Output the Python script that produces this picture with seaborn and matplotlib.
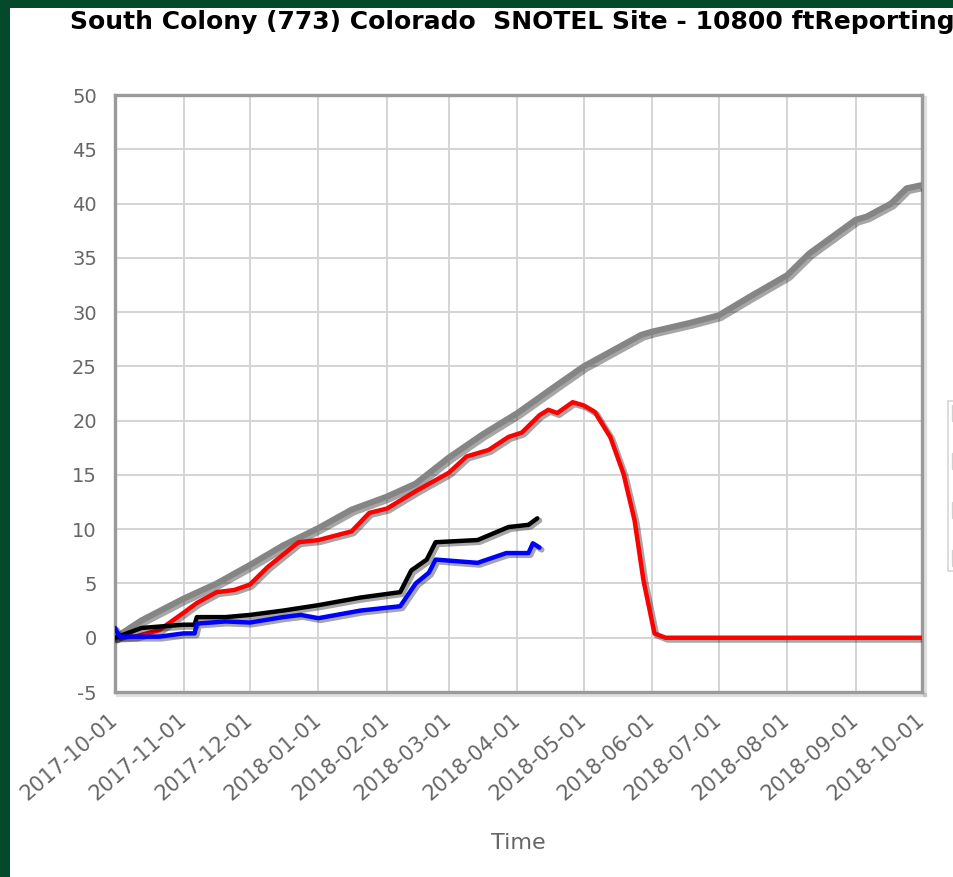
import matplotlib
matplotlib.use("Agg")
import matplotlib.pyplot as plt
import matplotlib.dates as mdates
import matplotlib.patheffects as pe
from matplotlib.patches import Rectangle, Patch
import numpy as np
import pandas as pd
import seaborn as sns

# ---- data (inches) ----
median_precip_dates = ["2017-10-01", "2017-10-13", "2017-11-01", "2017-11-16", "2017-12-01",
                       "2017-12-16", "2018-01-01", "2018-01-16", "2018-02-01", "2018-02-14",
                       "2018-03-01", "2018-03-16", "2018-04-01", "2018-04-19", "2018-05-01",
                       "2018-05-27", "2018-06-01", "2018-06-18", "2018-07-01", "2018-07-15",
                       "2018-08-01", "2018-08-11", "2018-09-01", "2018-09-06", "2018-09-17",
                       "2018-09-24", "2018-10-01"]
median_precip = [0.0, 1.6, 3.6, 5.0, 6.7, 8.5, 10.1, 11.8, 13.0, 14.2, 16.6, 18.7, 20.7,
                 23.3, 25.0, 27.9, 28.2, 29.0, 29.7, 31.4, 33.4, 35.4, 38.5, 38.8, 40.0,
                 41.4, 41.7]

median_swe_dates = ["2017-10-01", "2017-10-10", "2017-10-21", "2017-11-01", "2017-11-07",
                    "2017-11-16", "2017-11-24", "2017-12-01", "2017-12-09", "2017-12-23",
                    "2018-01-01", "2018-01-16", "2018-01-24", "2018-02-01", "2018-02-14",
                    "2018-03-01", "2018-03-09", "2018-03-19", "2018-03-28", "2018-04-03",
                    "2018-04-11", "2018-04-15", "2018-04-19", "2018-04-26", "2018-05-01",
                    "2018-05-06", "2018-05-13", "2018-05-19", "2018-05-24", "2018-05-28",
                    "2018-06-02", "2018-06-07", "2018-10-01"]
median_swe = [0.0, 0.1, 0.7, 2.3, 3.2, 4.2, 4.4, 4.9, 6.5, 8.8, 9.0, 9.8, 11.5, 11.9,
              13.5, 15.2, 16.7, 17.3, 18.5, 18.9, 20.5, 21.0, 20.7, 21.7, 21.4, 20.8,
              18.5, 15.1, 10.8, 5.3, 0.4, 0.0, 0.0]

precip_dates = ["2017-10-01", "2017-10-13", "2017-11-01", "2017-11-06", "2017-11-07",
                "2017-11-20", "2017-12-01", "2017-12-16", "2018-01-01", "2018-01-20",
                "2018-02-07", "2018-02-12", "2018-02-19", "2018-02-23", "2018-03-14",
                "2018-03-28", "2018-04-06", "2018-04-10"]
precip = [0.0, 0.9, 1.2, 1.2, 1.9, 1.9, 2.1, 2.5, 3.0, 3.7, 4.2, 6.2, 7.2, 8.8, 9.0,
          10.2, 10.4, 11.0]

swe_dates = ["2017-10-01", "2017-10-03", "2017-10-21", "2017-11-01", "2017-11-06",
             "2017-11-07", "2017-11-20", "2017-12-01", "2017-12-16", "2017-12-24",
             "2018-01-01", "2018-01-20", "2018-02-07", "2018-02-14", "2018-02-20",
             "2018-02-23", "2018-03-14", "2018-03-27", "2018-04-06", "2018-04-08",
             "2018-04-11"]
swe = [0.9, 0.1, 0.1, 0.4, 0.4, 1.3, 1.5, 1.4, 1.9, 2.1, 1.8, 2.5, 2.9, 5.0, 6.0,
       7.2, 6.9, 7.8, 7.8, 8.7, 8.3]

series = [
    (median_precip_dates, median_precip, "#858585", 4.4),
    (median_swe_dates, median_swe, "#ff0000", 3.2),
    (precip_dates, precip, "#000000", 3.2),
    (swe_dates, swe, "#0000ff", 3.2),
]

y_ticks = list(range(-5, 51, 5))
title = "South Colony (773) Colorado  SNOTEL Site - 10800 ftReporting"

# ---- figure ----
sns.set_theme(style="whitegrid")
plt.rcParams["font.family"] = ["DejaVu Sans"]
plt.rcParams["axes.unicode_minus"] = False

W, H = 954, 877
fig = plt.figure(figsize=(W / 100, H / 100), dpi=100, facecolor="white")
ax = fig.add_axes([115 / W, 1 - 692 / H, (922 - 115) / W, (692 - 95) / H])
ax.set_facecolor("white")

# dark green frame along the left and top edges
fig.patches.append(Rectangle((0, 0), 10 / W, 1, transform=fig.transFigure,
                             facecolor="#03492a", edgecolor="none", zorder=0))
fig.patches.append(Rectangle((0, 1 - 8 / H), 1, 8 / H, transform=fig.transFigure,
                             facecolor="#03492a", edgecolor="none", zorder=0))


def shadow(lw):
    return [pe.SimpleLineShadow(offset=(1.5, -1.5), shadow_color="black",
                                alpha=0.35, linewidth=lw + 1.0),
            pe.Normal()]


for dates, vals, color, lw in series:
    df = pd.DataFrame({"Time": pd.to_datetime(dates), "value": vals})
    sns.lineplot(data=df, x="Time", y="value", ax=ax, color=color, linewidth=lw,
                 path_effects=shadow(lw), zorder=3, legend=False)

ax.set_xlim(pd.Timestamp("2017-10-01"), pd.Timestamp("2018-10-01"))
ax.set_ylim(-5, 50)
ax.set_yticks(y_ticks)
ax.xaxis.set_major_locator(mdates.MonthLocator())
ax.xaxis.set_major_formatter(mdates.DateFormatter("%Y-%m-%d"))

ax.grid(True, color="#d4d4d4", linewidth=1.4)
for name, sp in ax.spines.items():
    sp.set_visible(True)
    sp.set_color("#9a9a9a")
    sp.set_linewidth(2.4)
    if name in ("right", "bottom"):
        sp.set_path_effects([pe.SimpleLineShadow(offset=(2.5, -2.5), shadow_color="black",
                                                 alpha=0.12, linewidth=3), pe.Normal()])

ax.tick_params(axis="both", which="both", direction="out", length=6, width=1.2,
               color="#9a9a9a", labelcolor="#666666")
ax.tick_params(axis="y", pad=7, labelsize=14)
ax.tick_params(axis="x", pad=12, labelsize=15)
for lab in ax.get_xticklabels():
    lab.set_rotation(41)
    lab.set_ha("right")
    lab.set_va("center")
    lab.set_rotation_mode("anchor")

ax.set_xlabel("Time", fontsize=16, color="#666666", labelpad=21)
ax.set_ylabel("")

fig.text(70 / W, 1 - 22 / H, title, ha="left", va="center", fontsize=18,
         fontweight="bold", color="black")

# series key box (runs off the right edge)
key_handles = [Patch(facecolor="white", edgecolor="#d0d0d0", linewidth=1.0) for _ in range(4)]
leg = ax.legend(key_handles, [""] * 4, loc="upper left", bbox_to_anchor=(948 / W, 1 - 401 / H),
                bbox_transform=fig.transFigure, borderaxespad=0, fontsize=12,
                labelspacing=1.8, borderpad=0.25, handleheight=1.1, handlelength=1.2,
                frameon=True, fancybox=False)
leg.get_frame().set_edgecolor("#cccccc")
leg.get_frame().set_linewidth(1.2)

fig.savefig("out.png", dpi=100, facecolor="white")
